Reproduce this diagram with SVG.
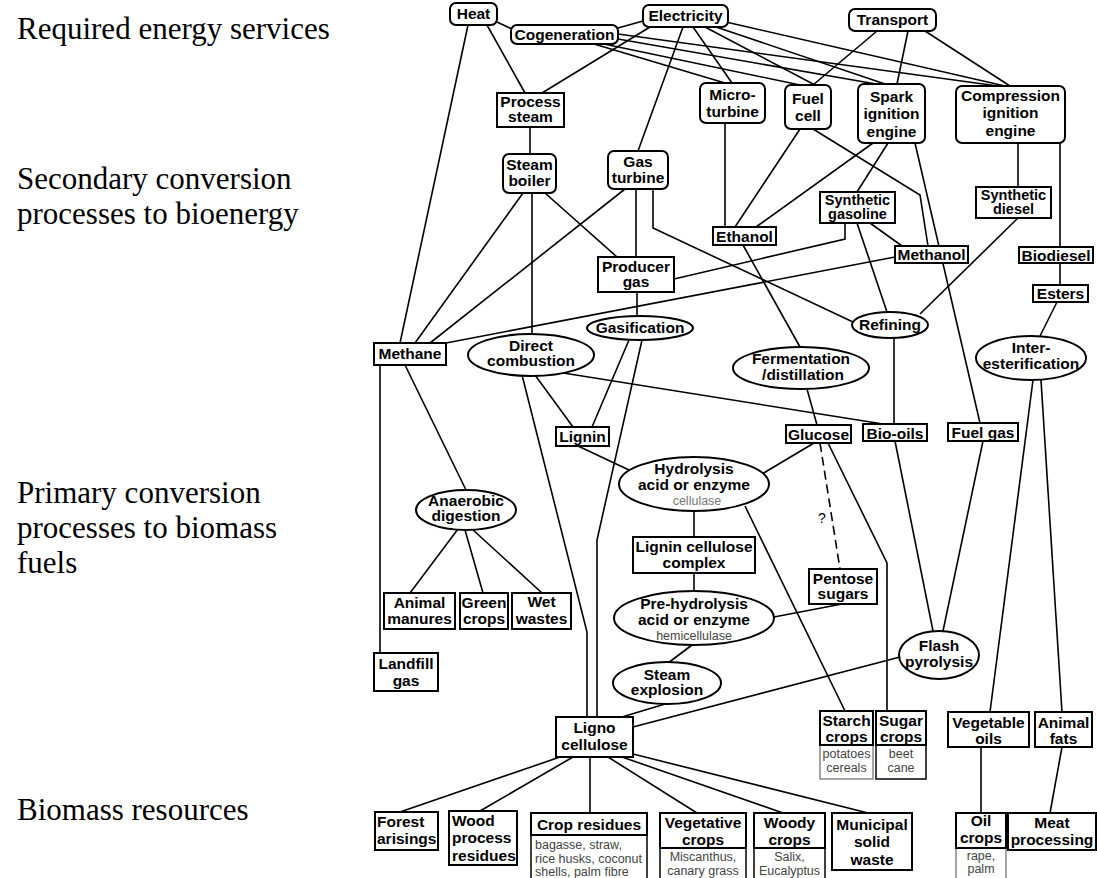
<svg xmlns="http://www.w3.org/2000/svg" width="1097" height="878" viewBox="0 0 1097 878">
<style>
.bg{fill:#fff}
.b{fill:#fff;stroke:#000;stroke-width:2}
.g{fill:#fff;stroke:#888;stroke-width:1.5}
.t{font-family:"Liberation Sans",Arial,sans-serif;font-weight:bold;font-size:15.5px;text-anchor:middle;fill:#000}
.tn{font-size:14.5px}
.tl{text-anchor:start}
.s{font-family:"Liberation Sans",Arial,sans-serif;font-size:12.5px;text-anchor:middle;fill:#444}
.sl{text-anchor:start}
.lbl{font-family:"Liberation Serif","Times New Roman",serif;font-size:31px;fill:#000}
#connectors path{fill:none;stroke:#000;stroke-width:1.6}
#connectors .d{stroke-dasharray:9 5}
</style>
<rect class="bg" x="0" y="0" width="1097" height="878"/>
<g id="labels">
<text class="lbl" x="17" y="39">Required energy services</text>
<text class="lbl" x="17" y="189">Secondary conversion</text>
<text class="lbl" x="17" y="224">processes to bioenergy</text>
<text class="lbl" x="17" y="503">Primary conversion</text>
<text class="lbl" x="17" y="538">processes to biomass</text>
<text class="lbl" x="17" y="573">fuels</text>
<text class="lbl" x="17" y="820">Biomass resources</text>
</g>
<g id="connectors">
<path d="M468,25 L400,343"/>
<path d="M487,25 L525,93"/>
<path d="M497,22 L512,29"/>
<path d="M618,28 L643,21"/>
<path d="M650,27 L542,93"/>
<path d="M683,27 L638,151"/>
<path d="M693,27 L732,83"/>
<path d="M705,27 L815,85"/>
<path d="M716,27 L885,84"/>
<path d="M726,22 L1005,86"/>
<path d="M594,44 L725,83"/>
<path d="M604,44 L800,85"/>
<path d="M618,39 L876,84"/>
<path d="M618,34 L998,86"/>
<path d="M877,31 L813,85"/>
<path d="M908,31 L897,84"/>
<path d="M925,31 L1010,86"/>
<path d="M530,127 L530,154"/>
<path d="M523,193 L415,343"/>
<path d="M532,193 L532,334"/>
<path d="M545,193 L617,257"/>
<path d="M625,189 L430,343"/>
<path d="M636,189 L636,257"/>
<path d="M653,189 L653,228 L853,322"/>
<path d="M725,123 L725,227"/>
<path d="M800,129 L735,227"/>
<path d="M813,129 L920,195 L928,246"/>
<path d="M873,143 L756,227"/>
<path d="M888,143 L857,192"/>
<path d="M915,143 L980,423"/>
<path d="M1018,143 L1018,187"/>
<path d="M1060,143 L1060,247"/>
<path d="M674,279 L845,239 L845,223"/>
<path d="M446,343 L895,257"/>
<path d="M870,223 L902,246"/>
<path d="M857,223 L887,312"/>
<path d="M1018,218 L920,314"/>
<path d="M1060,263 L1060,285"/>
<path d="M1057,302 L1040,336"/>
<path d="M743,245 L800,347"/>
<path d="M894,338 L894,424"/>
<path d="M637,292 L637,316"/>
<path d="M629,340 L592,427"/>
<path d="M642,340 L597,540 L597,717"/>
<path d="M535,375 L573,427"/>
<path d="M522,375 L587,632 L587,717"/>
<path d="M557,372 L883,424"/>
<path d="M807,389 L817,425"/>
<path d="M1033,380 L990,712"/>
<path d="M1041,380 L1062,712"/>
<path d="M578,446 L629,470"/>
<path d="M814,443 L762,474"/>
<path class="d" d="M820,443 L840,569"/>
<path d="M828,443 L887,563 L887,711"/>
<path d="M895,441 L933,631"/>
<path d="M983,441 L943,631"/>
<path d="M694,511 L694,537"/>
<path d="M745,506 L845,711"/>
<path d="M694,573 L694,591"/>
<path d="M774,617 L842,604"/>
<path d="M692,645 L668,663"/>
<path d="M665,704 L622,717"/>
<path d="M900,657 L633,727"/>
<path d="M405,365 L466,490"/>
<path d="M380,365 L380,653"/>
<path d="M458,529 L410,593"/>
<path d="M465,530 L483,593"/>
<path d="M472,529 L542,593"/>
<path d="M560,757 L400,812"/>
<path d="M573,757 L480,811"/>
<path d="M590,757 L590,813"/>
<path d="M608,757 L697,813"/>
<path d="M622,757 L783,813"/>
<path d="M633,754 L868,813"/>
<path d="M981,747 L981,813"/>
<path d="M1062,747 L1050,813"/>
<text x="818" y="523" style="font-family:'Liberation Sans',Arial,sans-serif;font-size:14px;fill:#000">?</text>
</g>
<g id="heat"><rect class="b" x="450" y="3" width="47" height="22" rx="6"/><text class="t" x="473.5" y="19">Heat</text></g>
<g id="cogeneration"><rect class="b" x="511" y="25" width="107" height="19" rx="6"/><text class="t" x="564.5" y="40">Cogeneration</text></g>
<g id="electricity"><rect class="b" x="643" y="5" width="85" height="22" rx="6"/><text class="t" x="685.5" y="21">Electricity</text></g>
<g id="transport"><rect class="b" x="849" y="9" width="87" height="22" rx="6"/><text class="t" x="892.5" y="25">Transport</text></g>
<g id="process-steam"><rect class="b" x="497" y="93" width="67" height="34"/><text class="t" x="530.5" y="107">Process</text><text class="t" x="530.5" y="122">steam</text></g>
<g id="steam-boiler"><rect class="b" x="503" y="154" width="53" height="39" rx="6"/><text class="t" x="529.5" y="170">Steam</text><text class="t" x="529.5" y="186">boiler</text></g>
<g id="gas-turbine"><rect class="b" x="608" y="151" width="60" height="38" rx="6"/><text class="t" x="638" y="167">Gas</text><text class="t" x="638" y="183">turbine</text></g>
<g id="micro-turbine"><rect class="b" x="700" y="83" width="65" height="40" rx="6"/><text class="t" x="732.5" y="100">Micro-</text><text class="t" x="732.5" y="117">turbine</text></g>
<g id="fuel-cell"><rect class="b" x="785" y="85" width="46" height="44" rx="6"/><text class="t" x="808" y="104">Fuel</text><text class="t" x="808" y="121">cell</text></g>
<g id="spark-ignition"><rect class="b" x="858" y="84" width="67" height="59" rx="6"/><text class="t" x="891.5" y="102">Spark</text><text class="t" x="891.5" y="119">ignition</text><text class="t" x="891.5" y="137">engine</text></g>
<g id="compression-ignition"><rect class="b" x="956" y="86" width="109" height="57" rx="6"/><text class="t" x="1010.5" y="101">Compression</text><text class="t" x="1010.5" y="118">ignition</text><text class="t" x="1010.5" y="136">engine</text></g>
<g id="synthetic-gasoline"><rect class="b" x="820" y="192" width="75" height="31"/><text class="t tn" x="857.5" y="205">Synthetic</text><text class="t tn" x="857.5" y="219">gasoline</text></g>
<g id="synthetic-diesel"><rect class="b" x="976" y="187" width="75" height="31"/><text class="t tn" x="1013.5" y="200">Synthetic</text><text class="t tn" x="1013.5" y="214">diesel</text></g>
<g id="ethanol"><rect class="b" x="713" y="227" width="63" height="18"/><text class="t" x="744.5" y="242">Ethanol</text></g>
<g id="methanol"><rect class="b" x="895" y="246" width="73" height="17"/><text class="t" x="931.5" y="260">Methanol</text></g>
<g id="biodiesel"><rect class="b" x="1019" y="247" width="74" height="16"/><text class="t" x="1056" y="261">Biodiesel</text></g>
<g id="esters"><rect class="b" x="1033" y="285" width="55" height="17"/><text class="t" x="1060.5" y="299">Esters</text></g>
<g id="producer-gas"><rect class="b" x="598" y="257" width="76" height="35"/><text class="t" x="636" y="272">Producer</text><text class="t" x="636" y="287">gas</text></g>
<g id="gasification"><ellipse class="b" cx="640" cy="328" rx="53" ry="12"/><text class="t" x="640" y="333">Gasification</text></g>
<g id="methane"><rect class="b" x="374" y="343" width="72" height="22"/><text class="t" x="410" y="359">Methane</text></g>
<g id="direct-combustion"><ellipse class="b" cx="531" cy="355" rx="63" ry="21"/><text class="t" x="531" y="351">Direct</text><text class="t" x="531" y="366">combustion</text></g>
<g id="refining"><ellipse class="b" cx="890" cy="325" rx="38" ry="13"/><text class="t" x="890" y="330">Refining</text></g>
<g id="fermentation"><ellipse class="b" cx="801" cy="368" rx="68" ry="21"/><text class="t" x="801" y="364">Fermentation</text><text class="t" x="803" y="380">/distillation</text></g>
<g id="inter-esterification"><ellipse class="b" cx="1031" cy="358" rx="55" ry="22"/><text class="t" x="1031" y="353">Inter-</text><text class="t" x="1031" y="369">esterification</text></g>
<g id="lignin"><rect class="b" x="556" y="427" width="53" height="19"/><text class="t" x="582.5" y="442">Lignin</text></g>
<g id="glucose"><rect class="b" x="786" y="425" width="65" height="18"/><text class="t" x="818.5" y="440">Glucose</text></g>
<g id="bio-oils"><rect class="b" x="863" y="424" width="64" height="17"/><text class="t" x="895" y="439">Bio-oils</text></g>
<g id="fuel-gas"><rect class="b" x="948" y="423" width="70" height="18"/><text class="t" x="983" y="438">Fuel gas</text></g>
<g id="hydrolysis"><ellipse class="b" cx="694" cy="484" rx="75" ry="27"/><text class="t" x="694" y="474">Hydrolysis</text><text class="t" x="694" y="490">acid or enzyme</text><text class="s" x="697" y="505" style="fill:#777">cellulase</text></g>
<g id="anaerobic-digestion"><ellipse class="b" cx="466" cy="510" rx="50" ry="20"/><text class="t" x="466" y="506">Anaerobic</text><text class="t" x="466" y="521">digestion</text></g>
<g id="lignin-cellulose-complex"><rect class="b" x="633" y="537" width="122" height="36"/><text class="t" x="694" y="552">Lignin cellulose</text><text class="t" x="694" y="568">complex</text></g>
<g id="pentose-sugars"><rect class="b" x="809" y="569" width="68" height="35"/><text class="t" x="843" y="584">Pentose</text><text class="t" x="843" y="599">sugars</text></g>
<g id="pre-hydrolysis"><ellipse class="b" cx="694" cy="618" rx="80" ry="27"/><text class="t" x="694" y="609">Pre-hydrolysis</text><text class="t" x="694" y="625">acid or enzyme</text><text class="s" x="694" y="640">hemicellulase</text></g>
<g id="animal-manures"><rect class="b" x="384" y="593" width="71" height="36"/><text class="t" x="419.5" y="608">Animal</text><text class="t" x="419.5" y="624">manures</text></g>
<g id="green-crops"><rect class="b" x="460" y="593" width="48" height="36"/><text class="t" x="484" y="608">Green</text><text class="t" x="484" y="624">crops</text></g>
<g id="wet-wastes"><rect class="b" x="512" y="593" width="59" height="36"/><text class="t" x="541.5" y="607">Wet</text><text class="t" x="541.5" y="624">wastes</text></g>
<g id="flash-pyrolysis"><ellipse class="b" cx="939" cy="655" rx="40" ry="24"/><text class="t" x="939" y="651">Flash</text><text class="t" x="939" y="667">pyrolysis</text></g>
<g id="landfill-gas"><rect class="b" x="374" y="653" width="64" height="38"/><text class="t" x="406" y="669">Landfill</text><text class="t" x="406" y="686">gas</text></g>
<g id="steam-explosion"><ellipse class="b" cx="667" cy="683" rx="54" ry="21"/><text class="t" x="667" y="680">Steam</text><text class="t" x="667" y="695">explosion</text></g>
<g id="ligno-cellulose"><rect class="b" x="556" y="717" width="77" height="40"/><text class="t" x="594.5" y="733">Ligno</text><text class="t" x="594.5" y="750">cellulose</text></g>
<g id="starch-crops"><rect class="g" x="820" y="745" width="53" height="34"/><rect class="b" x="820" y="711" width="53" height="34"/><text class="t" x="846.5" y="726">Starch</text><text class="t" x="846.5" y="742">crops</text><text class="s" x="846.5" y="758">potatoes</text><text class="s" x="846.5" y="772">cereals</text></g>
<g id="sugar-crops"><rect class="b" x="876" y="745" width="50" height="34" style="stroke-width:1.5"/><rect class="b" x="876" y="711" width="50" height="34"/><text class="t" x="901" y="726">Sugar</text><text class="t" x="901" y="742">crops</text><text class="s" x="901" y="758">beet</text><text class="s" x="901" y="772">cane</text></g>
<g id="vegetable-oils"><rect class="b" x="948" y="712" width="81" height="35"/><text class="t" x="988.5" y="728">Vegetable</text><text class="t" x="988.5" y="744">oils</text></g>
<g id="animal-fats"><rect class="b" x="1035" y="712" width="57" height="35"/><text class="t" x="1063.5" y="728">Animal</text><text class="t" x="1063.5" y="744">fats</text></g>
<g id="forest-arisings"><rect class="b" x="375" y="812" width="63" height="38"/><text class="t tl" x="377" y="827">Forest</text><text class="t tl" x="377" y="844">arisings</text></g>
<g id="wood-process-residues"><rect class="b" x="449" y="811" width="68" height="54"/><text class="t tl" x="452" y="826">Wood</text><text class="t tl" x="452" y="843">process</text><text class="t tl" x="452" y="861">residues</text></g>
<g id="crop-residues"><rect class="b" x="531" y="835" width="116" height="45" style="stroke-width:1.5"/><rect class="b" x="531" y="813" width="116" height="22"/><text class="t" x="589" y="830">Crop residues</text><text class="s sl" x="535" y="849">bagasse, straw,</text><text class="s sl" x="535" y="863">rice husks, coconut</text><text class="s sl" x="535" y="876">shells, palm fibre</text></g>
<g id="vegetative-crops"><rect class="b" x="660" y="848" width="86" height="32" style="stroke-width:1.5"/><rect class="b" x="660" y="813" width="86" height="35"/><text class="t" x="703" y="828">Vegetative</text><text class="t" x="703" y="845">crops</text><text class="s" x="703" y="861">Miscanthus,</text><text class="s" x="703" y="875">canary grass</text></g>
<g id="woody-crops"><rect class="b" x="754" y="848" width="71" height="32" style="stroke-width:1.5"/><rect class="b" x="754" y="813" width="71" height="35"/><text class="t" x="789.5" y="828">Woody</text><text class="t" x="789.5" y="845">crops</text><text class="s" x="789.5" y="861">Salix,</text><text class="s" x="789.5" y="875">Eucalyptus</text></g>
<g id="municipal-solid-waste"><rect class="b" x="832" y="813" width="80" height="57"/><text class="t" x="872" y="830">Municipal</text><text class="t" x="872" y="847">solid</text><text class="t" x="872" y="865">waste</text></g>
<g id="oil-crops"><rect class="g" x="956" y="848" width="50" height="32"/><rect class="b" x="956" y="813" width="50" height="35"/><text class="t" x="981" y="826">Oil</text><text class="t" x="981" y="843">crops</text><text class="s" x="981" y="860">rape,</text><text class="s" x="981" y="873">palm</text></g>
<g id="meat-processing"><rect class="b" x="1008" y="813" width="88" height="37"/><text class="t" x="1052" y="828">Meat</text><text class="t" x="1052" y="845">processing</text></g>
</svg>
